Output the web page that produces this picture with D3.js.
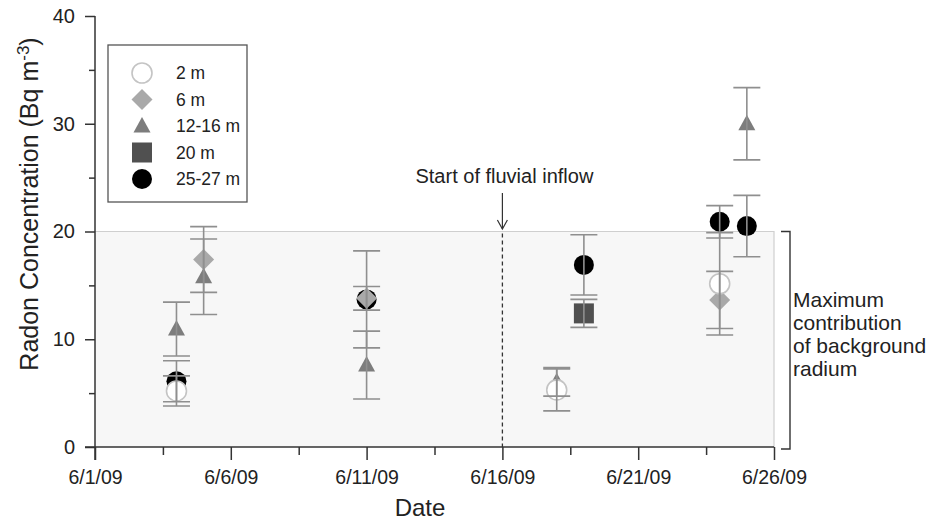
<!DOCTYPE html>
<html>
<head>
<meta charset="utf-8">
<script src="https://cdn.jsdelivr.net/npm/d3@7"></script>
<style>
html,body{margin:0;padding:0;background:#fff;}
svg{display:block;font-family:"Liberation Sans",Arial,sans-serif;}
</style>
</head>
<body>
<svg id="chart" width="933" height="521"></svg>
<script>
// ---- data ----
const seriesNames = ["2 m", "6 m", "12-16 m", "20 m", "25-27 m"];
const dates2m = ["2009-06-04", "2009-06-18", "2009-06-24"];
const vals2m = [5.2, 5.3, 15.15];
const err2m = [1.4, 1.95, 4.75];
const dates6m = ["2009-06-05", "2009-06-11", "2009-06-24"];
const vals6m = [17.4, 13.8, 13.65];
const err6m = [3.05, 1.1, 2.65];
const dates12m = ["2009-06-04", "2009-06-05", "2009-06-11", "2009-06-18", "2009-06-25"];
const vals12m = [10.95, 15.8, 7.6, 6.05, 30.0];
const err12m = [2.5, 3.5, 3.15, 1.33, 3.35];
const dates20m = ["2009-06-19"];
const vals20m = [12.4];
const err20m = [1.3];
const dates25m = ["2009-06-04", "2009-06-11", "2009-06-19", "2009-06-24", "2009-06-25"];
const vals25m = [6.1, 13.7, 16.9, 20.9, 20.5];
const err25m = [1.9, 4.5, 2.8, 1.5, 2.85];
const xTickDates = ["2009-06-01", "2009-06-06", "2009-06-11", "2009-06-16", "2009-06-21", "2009-06-26"];
const yTicks = [0, 10, 20, 30, 40];
const backgroundMax = 20;
const inflowDate = "2009-06-16";

// ---- setup ----
const parse = d3.timeParse("%Y-%m-%d");
const fmt = d3.timeFormat("%-m/%-d/%y");
const svg = d3.select("#chart");
const x = d3.scaleTime().domain([parse("2009-06-01"), parse("2009-06-26")]).range([95, 774]);
const y = d3.scaleLinear().domain([0, 40]).range([447, 16]);

const build = (ds, vs, es) => ds.map((d, i) => ({date: parse(d), v: vs[i], e: es[i]}));
const series = [
  {name: seriesNames[0], data: build(dates2m, vals2m, err2m), shape: "circle", fill: "#ffffff", stroke: "#c4c4c4"},
  {name: seriesNames[1], data: build(dates6m, vals6m, err6m), shape: "diamond", fill: "#a9a9a9", stroke: "none"},
  {name: seriesNames[2], data: build(dates12m, vals12m, err12m), shape: "triangle", fill: "#7d7d7d", stroke: "none"},
  {name: seriesNames[3], data: build(dates20m, vals20m, err20m), shape: "square", fill: "#505050", stroke: "none"},
  {name: seriesNames[4], data: build(dates25m, vals25m, err25m), shape: "circle", fill: "#000000", stroke: "none"}
];

function drawMarker(g, s, cx, cy) {
  let el;
  if (s.shape === "circle") {
    el = g.append("circle").attr("cx", cx).attr("cy", cy).attr("r", 10);
  } else if (s.shape === "diamond") {
    el = g.append("path").attr("d", `M${cx},${cy-10.5}L${cx+10.5},${cy}L${cx},${cy+10.5}L${cx-10.5},${cy}Z`);
  } else if (s.shape === "triangle") {
    el = g.append("path").attr("d", `M${cx},${cy-9}L${cx+8.5},${cy+6.5}L${cx-8.5},${cy+6.5}Z`);
  } else {
    el = g.append("rect").attr("x", cx-10).attr("y", cy-10).attr("width", 20).attr("height", 20);
  }
  el.attr("fill", s.fill).attr("stroke", s.stroke).attr("stroke-width", 1.6);
}

// shaded background region
const x0 = x.range()[0], x1 = x.range()[1];
svg.append("rect")
  .attr("x", x0).attr("y", y(backgroundMax))
  .attr("width", x1 - x0).attr("height", y(0) - y(backgroundMax))
  .attr("fill", "#f7f7f7");
svg.append("path")
  .attr("d", `M${x0},${y(backgroundMax)}H${x1}V${y(0)}`)
  .attr("fill", "none").attr("stroke", "#cfcfcf").attr("stroke-width", 1.2);

// dashed inflow line
const xi = x(parse(inflowDate));
svg.append("line").attr("x1", xi).attr("x2", xi).attr("y1", y(backgroundMax) + 2).attr("y2", y(0))
  .attr("stroke", "#333").attr("stroke-width", 1.3).attr("stroke-dasharray", "4,3");
// arrow
svg.append("line").attr("x1", xi).attr("x2", xi).attr("y1", 193).attr("y2", 229)
  .attr("stroke", "#333").attr("stroke-width", 1.2);
svg.append("path").attr("d", `M${xi-5},${220}L${xi},${229}L${xi+5},${220}`)
  .attr("fill", "none").attr("stroke", "#333").attr("stroke-width", 1.2);
svg.append("text").attr("x", xi + 2).attr("y", 183).attr("text-anchor", "middle")
  .attr("font-size", 20).attr("fill", "#222").text("Start of fluvial inflow");

// bracket
const bx = 790;
svg.append("path").attr("d", `M${bx-9},${y(backgroundMax)}H${bx}V${y(0)+2}H${bx-9}`)
  .attr("fill", "none").attr("stroke", "#333").attr("stroke-width", 1.4);
const bLines = ["Maximum", "contribution", "of background", "radium"];
svg.append("g").selectAll("text").data(bLines).join("text")
  .attr("x", 793).attr("y", (d, i) => 307 + i * 23)
  .attr("font-size", 21).attr("fill", "#222").text(d => d);

// axes
const axisColor = "#333";
// y axis
const gy = svg.append("g").attr("transform", `translate(${x0},0)`);
gy.call(d3.axisLeft(y).tickValues(yTicks).tickSize(10).tickPadding(10).tickFormat(d3.format("d")));
gy.append("g").call(d3.axisLeft(y).tickValues([5, 15, 25, 35]).tickSize(6).tickFormat(""));
gy.selectAll(".domain").remove();
gy.append("line").attr("x1", 0).attr("x2", 0).attr("y1", y(40)).attr("y2", y(0) + 13)
  .attr("stroke", axisColor).attr("stroke-width", 1.5);
gy.selectAll(".tick line").attr("stroke", axisColor).attr("stroke-width", 1.5);
gy.selectAll(".tick text").attr("font-size", 20).attr("fill", "#222").attr("font-family", "Liberation Sans, Arial, sans-serif");

// x axis
const gx = svg.append("g").attr("transform", `translate(0,${y(0)})`);
const xMajor = xTickDates.map(parse);
const xMinor = xMajor.slice(0, -1).map((d, i) => new Date((d.getTime() + xMajor[i + 1].getTime()) / 2));
gx.call(d3.axisBottom(x).tickValues(xMajor).tickSize(13).tickPadding(10).tickFormat(fmt));
gx.append("g").call(d3.axisBottom(x).tickValues(xMinor).tickSize(8).tickFormat(""));
gx.selectAll(".domain").remove();
gx.append("line").attr("x1", x0 - 10).attr("x2", x1).attr("y1", 0).attr("y2", 0)
  .attr("stroke", axisColor).attr("stroke-width", 1.5);
gx.selectAll(".tick line").attr("stroke", axisColor).attr("stroke-width", 1.5);
gx.selectAll(".tick text").attr("font-size", 19.5).attr("fill", "#222").attr("font-family", "Liberation Sans, Arial, sans-serif");

// axis titles
svg.append("text").attr("x", 420).attr("y", 516).attr("text-anchor", "middle")
  .attr("font-size", 24).attr("fill", "#222").text("Date");
const yl = svg.append("text").attr("transform", "translate(38,204) rotate(-90)")
  .attr("text-anchor", "middle").attr("font-size", 25).attr("fill", "#222");
yl.append("tspan").text("Radon Concentration (Bq m");
yl.append("tspan").attr("baseline-shift", "super").attr("font-size", 17).text("-3");
yl.append("tspan").text(")");

// markers (drawing order to match overlaps)
const gm = svg.append("g");
[4, 3, 2, 1, 0].forEach(si => {
  const s = series[si];
  s.data.forEach(d => drawMarker(gm, s, x(d.date), y(d.v)));
});
// error bars on top
const ge = svg.append("g").attr("stroke", "#8f8f8f").attr("stroke-width", 1.6).attr("fill", "none");
series.forEach(s => {
  s.data.forEach(d => {
    const cx = x(d.date);
    ge.append("path").attr("d",
      `M${cx},${y(d.v + d.e)}V${y(d.v - d.e)}` +
      `M${cx-13.5},${y(d.v + d.e)}H${cx+13.5}` +
      `M${cx-13.5},${y(d.v - d.e)}H${cx+13.5}`);
  });
});

// legend
const lg = svg.append("g");
lg.append("rect").attr("x", 108).attr("y", 45).attr("width", 139).attr("height", 157)
  .attr("fill", "#fff").attr("stroke", "#555").attr("stroke-width", 1.3);
series.forEach((s, i) => {
  const cy = 73 + i * 26.5;
  drawMarker(lg, s, 142, cy);
  lg.append("text").attr("x", 176).attr("y", cy + 6).attr("font-size", 17.5).attr("fill", "#222").text(s.name);
});
</script>
</body>
</html>
